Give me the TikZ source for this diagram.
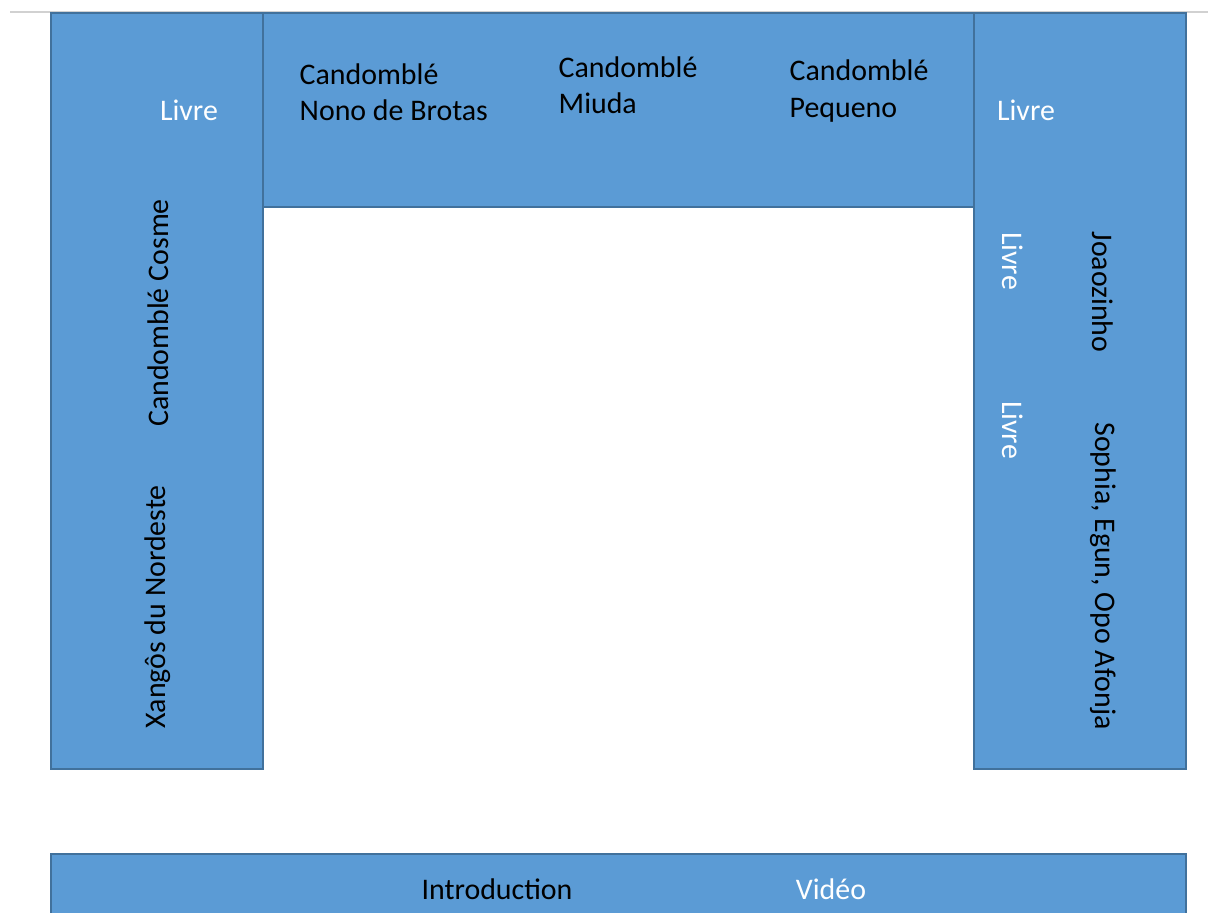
\documentclass[tikz,border=0pt]{standalone}
\usepackage{fontspec}
\setmainfont{Carlito}
\usepackage{xcolor}
\usetikzlibrary{positioning,fit}
\definecolor{panelblue}{HTML}{5B9BD5}
\definecolor{paneledge}{HTML}{41719C}

\begin{document}
\begin{tikzpicture}[x=0.01cm, y=-0.01cm,
    panel/.style={draw=paneledge, fill=panelblue, line width=0.6pt, inner sep=0pt},
    slottext/.style={font=\fontsize{8.5}{10.3}\selectfont, inner sep=0pt},
    freetext/.style={slottext, white},
    nametext/.style={slottext, black}]
    \clip (0, 0) rectangle (1208, 913);

    % page edge
    \coordinate (edgeL) at (10, 12);
    \coordinate (edgeR) at (1208, 12);
    \draw [black!18, line width=0.4pt] (edgeL) -- (edgeR);

    % Left column
    \node [panel, fit={(51, 13) (263, 769)}] (leftcol) {};
    \node [freetext] (livreL) at (189, 110) {Livre};
    \node [nametext, rotate=90] (cosme) at (158, 313) {Candomblé Cosme};
    \node [nametext, rotate=90] (xangos) at (158, 607) {Xangôs du Nordeste};

    % Top row
    \node [panel, fit={(263, 13) (974, 207)}] (toprow) {};
    \node [nametext, anchor=west, align=left] (nono) at (299, 92) {Candomblé\\Nono de Brotas};
    \node [nametext, anchor=west, align=left] (miuda) at (558, 85) {Candomblé\\Miuda};
    \node [nametext, anchor=west, align=left] (pequeno) at (789, 91) {Candomblé\\Pequeno};

    % Right column
    \node [panel, fit={(974, 13) (1186, 769)}] (rightcol) {};
    \node [freetext] (livreR) at (1026, 110) {Livre};
    \node [freetext, rotate=-90] (livreA) at (1013, 261) {Livre};
    \node [freetext, rotate=-90] (livreB) at (1013, 430) {Livre};
    \node [nametext, rotate=-90] (joao) at (1103, 292) {Joaozinho};
    \node [nametext, rotate=-90] (sophia) at (1103, 576) {Sophia, Egun, Opo Afonja};

    % Bottom bar
    \node [panel, fit={(51, 854) (1186, 940)}] (bottombar) {};
    \node [nametext] (intro) at (497, 889) {Introduction};
    \node [freetext] (video) at (831, 889) {Vidéo};
\end{tikzpicture}
\end{document}
